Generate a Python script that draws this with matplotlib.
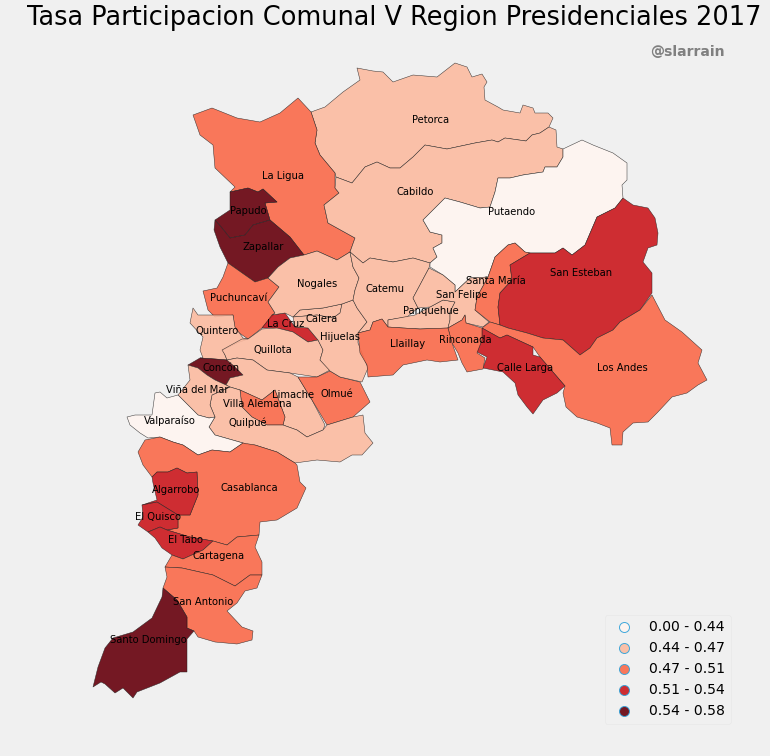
import matplotlib
matplotlib.use('Agg')
import matplotlib.pyplot as plt
from matplotlib.lines import Line2D
from matplotlib.patches import Polygon

# outlines (x, y as read on the picture, y going down)
petorca = [(311,112),(325,107),(343,92),(360,80),(357,68),(373,71),(383,72),(393,82),(413,75),(437,77),(455,63),(467,67),(472,77),(482,74),(487,82),(484,87),(485,100),(498,107),(503,110),(520,113),(523,105),(533,108),(535,113),(548,113),(553,118),(549,127),(540,133),(532,135),(526,141),(505,138),(498,142),(492,140),(475,143),(447,149),(425,145),(413,157),(400,168),(390,168),(377,162),(365,167),(352,183),(336,177),(335,173),(320,155),(315,143),(317,130)]
la_ligua = [(193,115),(212,108),(237,118),(260,122),(280,113),(298,98),(311,112),(317,130),(315,143),(320,155),(335,173),(335,188),(339,193),(324,205),(328,223),(355,238),(350,252),(337,260),(317,251),(304,255),(290,237),(270,220),(265,203),(277,202),(263,189),(258,192),(248,188),(230,192),(235,187),(215,168),(213,145),(200,135)]
cabildo = [(336,177),(335,188),(339,193),(324,205),(328,223),(355,238),(350,252),(363,263),(370,258),(393,262),(413,258),(430,263),(437,257),(433,248),(442,243),(442,235),(430,232),(423,220),(435,208),(445,198),(460,202),(480,208),(490,207),(495,192),(498,178),(510,178),(523,175),(543,172),(545,167),(557,167),(563,157),(563,149),(557,147),(556,130),(549,127),(540,133),(532,135),(526,141),(505,138),(498,142),(492,140),(475,143),(447,149),(425,145),(413,157),(400,168),(390,168),(377,162),(365,167),(352,183)]
putaendo = [(563,149),(582,140),(593,145),(613,153),(627,163),(627,180),(622,185),(623,198),(615,208),(597,217),(585,245),(572,255),(563,248),(555,253),(530,253),(525,252),(515,243),(508,245),(495,257),(488,277),(470,278),(455,292),(455,285),(443,275),(430,267),(430,263),(437,257),(433,248),(442,243),(442,235),(430,232),(423,220),(435,208),(445,198),(460,202),(480,208),(490,207),(495,192),(498,178),(510,178),(523,175),(543,172),(545,167),(557,167),(563,157)]
papudo = [(230,192),(248,188),(258,192),(263,189),(277,202),(265,203),(270,220),(253,225),(245,235),(230,238),(222,228),(215,220),(230,210)]
zapallar = [(215,220),(222,228),(230,238),(245,235),(253,225),(270,220),(290,237),(304,255),(290,258),(278,267),(268,278),(255,282),(245,275),(228,263),(220,247),(214,230)]
puchuncavi = [(228,263),(245,275),(255,282),(268,278),(279,287),(268,302),(275,313),(262,328),(248,339),(235,330),(233,315),(215,317),(208,310),(203,291),(217,288),(223,277)]
quintero = [(193,308),(198,315),(233,315),(235,327),(243,338),(248,339),(237,343),(223,350),(227,360),(215,359),(200,358),(203,358),(200,350),(203,337),(190,323)]
concon = [(188,365),(200,358),(215,359),(227,360),(235,367),(243,375),(230,378),(226,385),(215,380),(207,375),(198,368)]
la_cruz = [(262,328),(272,315),(285,313),(295,327),(308,328),(318,340),(308,342),(293,332),(277,328)]
quillota = [(222,350),(242,339),(248,339),(262,329),(277,328),(293,332),(308,342),(318,340),(323,350),(320,360),(330,370),(317,377),(290,373),(267,370),(253,360),(237,358),(227,360),(225,355)]
limache = [(227,360),(237,358),(253,360),(267,370),(290,373),(298,377),(312,400),(325,425),(323,430),(307,437),(297,430),(283,425),(285,417),(275,390),(262,400),(240,390),(230,387),(226,385),(230,378),(243,375),(235,367)]
olmue = [(298,377),(317,377),(330,371),(340,377),(360,382),(370,402),(353,417),(327,425),(312,400)]
villa_alemana = [(240,390),(262,400),(275,390),(285,417),(283,425),(267,425),(252,417),(242,407)]
quilpue = [(230,387),(240,390),(242,407),(252,417),(267,425),(283,425),(297,430),(307,437),(323,430),(327,425),(353,417),(363,415),(365,433),(373,443),(362,455),(352,455),(340,462),(317,460),(295,463),(277,452),(255,445),(248,445),(243,443),(215,435),(209,427),(215,417),(210,405),(212,395)]
vina_del_mar = [(188,365),(198,368),(207,375),(215,380),(226,385),(230,387),(212,395),(210,405),(215,417),(209,418),(198,415),(190,407),(178,395),(190,380)]
valparaiso = [(127,417),(135,415),(152,415),(155,393),(160,392),(167,398),(178,395),(190,407),(198,415),(209,418),(215,417),(209,427),(215,435),(243,443),(230,452),(212,450),(198,455),(183,445),(173,442),(160,437),(148,438),(140,433),(130,425)]
casablanca = [(138,452),(145,440),(160,437),(173,442),(183,445),(198,455),(212,450),(230,452),(243,443),(255,445),(277,452),(295,463),(297,465),(300,482),(306,488),(297,508),(277,520),(260,522),(259,535),(237,537),(227,545),(213,541),(190,537),(167,530),(178,528),(178,515),(190,515),(198,495),(197,472),(187,473),(177,468),(168,472),(157,472),(152,477),(143,465)]
algarrobo = [(157,472),(168,472),(177,468),(187,473),(197,472),(198,495),(190,515),(178,515),(157,502),(142,505),(157,500),(153,483),(152,477)]
el_quisco = [(142,505),(157,502),(178,515),(178,528),(167,530),(160,527),(148,532),(138,525),(143,517)]
el_tabo = [(148,532),(160,527),(167,530),(190,537),(213,541),(203,550),(183,559),(172,555),(162,548),(155,538)]
cartagena = [(213,541),(227,545),(237,537),(259,535),(255,547),(262,562),(262,575),(250,575),(235,586),(213,575),(182,568),(165,567),(172,555),(183,559),(203,550)]
san_antonio = [(165,567),(182,568),(213,575),(235,586),(250,575),(262,575),(257,588),(245,591),(237,603),(227,611),(242,627),(253,631),(252,640),(237,644),(215,642),(198,637),(194,631),(187,628),(187,617),(177,600),(163,588),(167,577)]
santo_domingo = [(163,588),(177,600),(187,617),(187,628),(194,631),(187,639),(187,672),(180,672),(160,683),(137,692),(133,698),(128,693),(123,688),(115,693),(105,684),(101,682),(93,687),(98,667),(105,648),(113,638),(133,632),(152,618),(162,597)]
calera = [(293,317),(300,310),(323,308),(342,304),(340,313),(333,318),(317,315)]
hijuelas = [(342,304),(353,300),(357,308),(367,322),(358,333),(358,343),(368,368),(362,382),(340,377),(330,371),(320,360),(323,350),(318,340),(308,328),(295,327),(293,317),(317,315),(333,318),(340,313)]
nogales = [(268,302),(279,287),(268,278),(278,267),(290,258),(304,255),(317,251),(337,260),(350,252),(353,267),(359,278),(355,290),(353,300),(342,304),(323,308),(300,310),(293,317),(285,313),(272,315),(275,313)]
catemu = [(350,252),(363,263),(370,258),(393,262),(413,258),(430,263),(429,268),(413,298),(418,308),(407,317),(388,320),(388,327),(382,319),(373,322),(370,330),(358,333),(367,322),(357,308),(353,300),(355,290),(359,278),(353,267)]
panquehue = [(388,327),(388,320),(415,315),(430,307),(443,300),(455,302),(450,312),(450,320),(448,328),(420,329),(403,328)]
san_felipe = [(429,268),(443,275),(455,285),(455,292),(470,278),(488,277),(477,297),(475,310),(489,322),(483,327),(466,323),(465,315),(462,320),(448,328),(450,320),(450,312),(455,302),(443,300),(430,307),(418,308),(413,298)]
santa_maria = [(495,257),(508,245),(515,243),(525,252),(530,253),(510,265),(512,280),(500,293),(498,307),(500,325),(490,322),(475,310),(477,297),(488,277)]
san_esteban = [(530,253),(555,253),(563,248),(572,255),(585,245),(597,217),(615,208),(623,198),(633,205),(648,208),(655,218),(658,233),(657,245),(648,248),(643,262),(652,273),(652,293),(640,310),(620,322),(613,330),(597,338),(590,348),(580,355),(563,340),(543,338),(527,333),(508,328),(500,325),(498,307),(500,293),(512,280),(510,265)]
los_andes = [(652,295),(665,320),(682,332),(702,350),(698,363),(707,380),(698,385),(687,393),(672,397),(657,413),(648,422),(633,423),(623,432),(622,445),(612,445),(610,428),(597,423),(577,417),(566,407),(563,393),(565,386),(540,357),(533,347),(507,335),(500,338),(482,328),(490,322),(500,325),(508,328),(527,333),(543,338),(563,340),(580,355),(590,348),(597,338),(613,330),(620,322),(640,310)]
calle_larga = [(482,328),(500,338),(507,335),(533,347),(533,355),(540,357),(565,386),(557,393),(543,400),(533,414),(527,407),(518,395),(515,383),(503,372),(483,368),(487,357),(477,352),(482,340)]
rinconada = [(448,328),(462,320),(465,315),(466,323),(482,328),(482,340),(477,353),(485,358),(483,369),(467,372),(462,363),(458,353),(452,343)]
llaillay = [(358,333),(370,330),(373,322),(382,319),(388,327),(403,328),(420,329),(448,328),(452,343),(458,360),(440,362),(427,360),(403,365),(393,375),(368,377),(367,365),(360,353)]

comunas = ['Petorca', 'La Ligua', 'Cabildo', 'Putaendo', 'Papudo', 'Zapallar', 'Puchuncaví', 'Quintero',
           'Concón', 'La Cruz', 'Quillota', 'Limache', 'Olmué', 'Villa Alemana', 'Quilpué', 'Viña del Mar',
           'Valparaíso', 'Casablanca', 'Algarrobo', 'El Quisco', 'El Tabo', 'Cartagena', 'San Antonio',
           'Santo Domingo', 'Calera', 'Hijuelas', 'Nogales', 'Catemu', 'Panquehue', 'San Felipe',
           'Santa María', 'San Esteban', 'Los Andes', 'Calle Larga', 'Rinconada', 'Llaillay']
outlines = [petorca, la_ligua, cabildo, putaendo, papudo, zapallar, puchuncavi, quintero,
            concon, la_cruz, quillota, limache, olmue, villa_alemana, quilpue, vina_del_mar,
            valparaiso, casablanca, algarrobo, el_quisco, el_tabo, cartagena, san_antonio,
            santo_domingo, calera, hijuelas, nogales, catemu, panquehue, san_felipe,
            santa_maria, san_esteban, los_andes, calle_larga, rinconada, llaillay]
# legend class of each comuna, same order as above
clases = [1, 2, 1, 0, 4, 4, 2, 1,
          4, 3, 1, 1, 2, 2, 1, 1,
          0, 2, 3, 3, 3, 2, 2,
          4, 1, 1, 1, 1, 1, 1,
          2, 3, 2, 3, 2, 2]
label_x = [431, 283, 415, 512, 248, 263, 239, 217,
           221, 286, 273, 293, 337, 257, 248, 197,
           170, 249, 176, 158, 185, 219, 203,
           148, 322, 340, 317, 385, 431, 462,
           496, 581, 622, 525, 465, 408]
label_y = [120, 176, 192, 212, 211, 247, 298, 331,
           368, 324, 350, 395, 394, 404, 423, 390,
           421, 488, 490, 517, 540, 556, 602,
           640, 319, 337, 284, 289, 311, 295,
           281, 273, 368, 368, 340, 344]
rangos = ['0.00 - 0.44', '0.44 - 0.47', '0.47 - 0.51', '0.51 - 0.54', '0.54 - 0.58']

plt.style.use('fivethirtyeight')
cmap = plt.get_cmap('Reds', 5)

fig = plt.figure(figsize=(770/72, 756/72), dpi=72, facecolor='#f0f0f0')
ax = fig.add_axes([0, 0, 1, 1])
ax.set_xlim(0, 770)
ax.set_ylim(756, 0)
ax.axis('off')

for outline, clase in zip(outlines, clases):
    ax.add_patch(Polygon(outline, closed=True, facecolor=cmap(clase), edgecolor='#222222',
                         linewidth=0.5, alpha=0.9, joinstyle='round'))

for nombre, x, y in zip(comunas, label_x, label_y):
    ax.text(x, y, nombre, fontsize=10, color='black', ha='center', va='center')

ax.text(394.5, 18, 'Tasa Participacion Comunal V Region Presidenciales 2017',
        fontsize=25.6, color='black', ha='center', va='center')
ax.text(687, 52, '@slarrain', fontsize=14, fontweight='bold', color='gray', ha='center', va='center')

handles = [Line2D([], [], linestyle='none', marker='o', markersize=10, markerfacecolor=cmap(i),
                  markeredgecolor='#30a2da', markeredgewidth=1, alpha=0.9, label=r)
           for i, r in enumerate(rangos)]
leg = ax.legend(handles=handles, loc='lower right', bbox_to_anchor=(731/770, 1 - 724/756), fontsize=14,
                frameon=True, facecolor='#f0f0f0', edgecolor='#e5e5e5', framealpha=1,
                borderaxespad=0, labelspacing=0.5, handletextpad=0.8)

fig.savefig('out.png', dpi=72, facecolor=fig.get_facecolor())
